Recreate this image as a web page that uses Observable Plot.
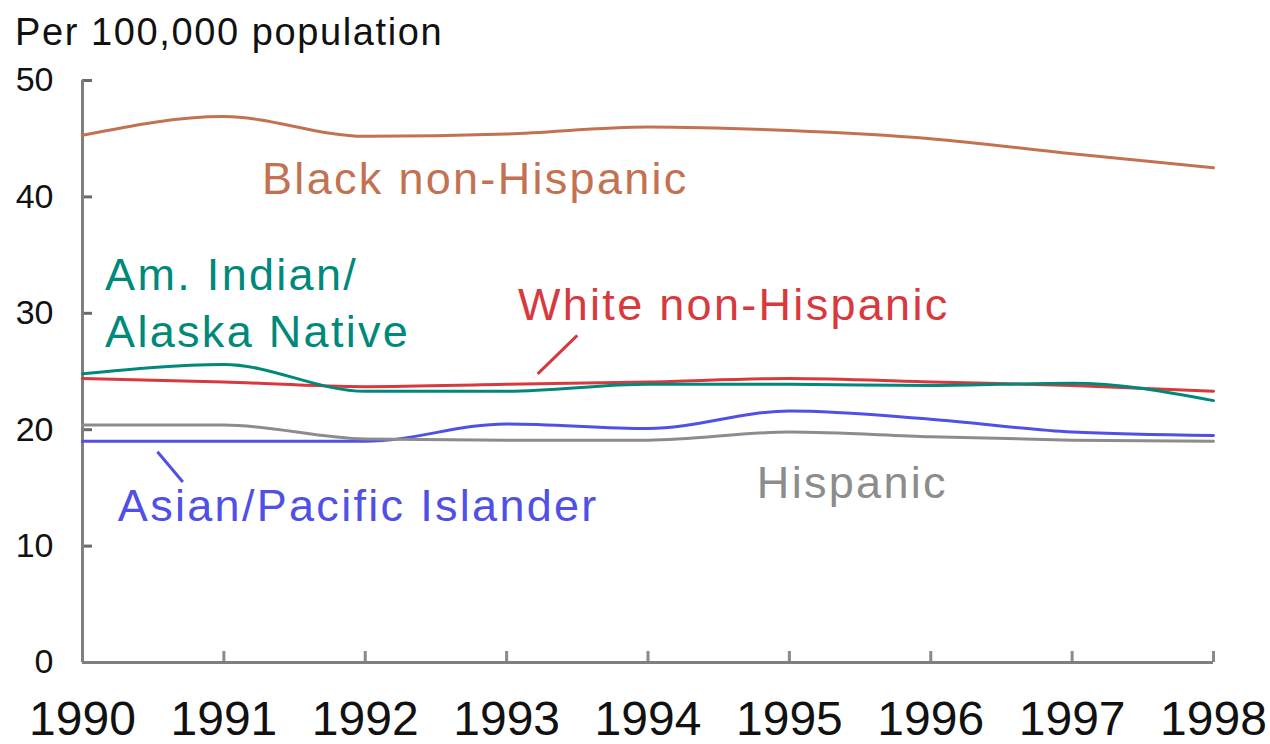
<!DOCTYPE html>
<html>
<head>
<meta charset="utf-8">
<script src="https://cdn.jsdelivr.net/npm/d3@7"></script>
<script src="https://cdn.jsdelivr.net/npm/@observablehq/plot@0.6"></script>
<style>
  html, body { margin: 0; padding: 0; background: #fff; }
  #wrap { position: relative; width: 1270px; height: 744px; overflow: hidden; font-family: "Liberation Sans", Arial, sans-serif; }
  #title { position: absolute; left: 15px; top: 13px; font-size: 38px; letter-spacing: 1.6px; color: #111; line-height: 1; white-space: nowrap; }
  #chart { position: absolute; left: 0; top: 0; }
  #chart svg g[aria-label="text"] text { letter-spacing: 2.3px; }
</style>
</head>
<body>
<div id="wrap">
  <div id="chart"></div>
  <div id="title">Per 100,000 population</div>
</div>
<script>
// ---- data ----
const years = [1990, 1991, 1992, 1993, 1994, 1995, 1996, 1997, 1998];
const blackNonHispanic = [45.3, 46.9, 45.2, 45.4, 46.0, 45.7, 45.0, 43.7, 42.5];
const whiteNonHispanic = [24.4, 24.1, 23.7, 23.9, 24.1, 24.4, 24.1, 23.8, 23.3];
const amIndianAlaska   = [24.8, 25.6, 23.3, 23.3, 23.9, 23.9, 23.8, 24.0, 22.5];
const asianPacific     = [19.0, 19.0, 19.0, 20.5, 20.1, 21.6, 20.9, 19.8, 19.5];
const hispanic         = [20.4, 20.4, 19.2, 19.1, 19.1, 19.8, 19.4, 19.1, 19.0];
const yTicks = [0, 10, 20, 30, 40, 50];

const seriesNames = ["Black non-Hispanic", "White non-Hispanic", "Am. Indian/Alaska Native", "Asian/Pacific Islander", "Hispanic"];
const seriesValues = [blackNonHispanic, whiteNonHispanic, amIndianAlaska, asianPacific, hispanic];
const seriesColors = ["#c27251", "#d8393d", "#00897a", "#5050e6", "#8c8c8c"];

// label anchors (data units)
const labelText  = ["Black non-Hispanic", "White non-Hispanic", "Am. Indian/", "Alaska Native", "Hispanic", "Asian/Pacific Islander"];
const labelX     = [1991.27, 1993.08, 1990.16, 1990.16, 1994.77, 1990.25];
const labelY     = [41.5, 30.7, 33.25, 28.35, 15.4, 13.4];
const labelSeries= [0, 1, 2, 2, 4, 3];

// leader lines (data units)
const leaderSeries = [1, 3];
const leaderX1 = [1993.22, 1990.53];
const leaderY1 = [24.8, 18.1];
const leaderX2 = [1993.50, 1990.71];
const leaderY2 = [28.1, 15.5];

// ---- build tables ----
const rows = [];
seriesNames.forEach((name, i) => years.forEach((yr, j) => rows.push({series: name, year: yr, value: seriesValues[i][j], color: seriesColors[i]})));
const labels = labelText.map((t, i) => ({text: t, x: labelX[i], y: labelY[i], color: seriesColors[labelSeries[i]]}));
const leaders = leaderSeries.map((s, i) => ({x1: leaderX1[i], y1: leaderY1[i], x2: leaderX2[i], y2: leaderY2[i], color: seriesColors[s]}));

const axisGray = "#7f7f7f";

const chart = Plot.plot({
  width: 1270,
  height: 744,
  marginLeft: 82,
  marginRight: 57,
  marginTop: 80,
  marginBottom: 82,
  style: {fontFamily: "'Liberation Sans', Arial, sans-serif", background: "white", color: "#111"},
  x: {domain: [1990, 1998]},
  y: {domain: [0, 50]},
  marks: [
    Plot.axisY(yTicks, {tickSize: 0, tickPadding: 29, fontSize: 34, tickFormat: d => String(d), label: null, fill: "#111"}),
    Plot.axisX(years, {tickSize: 0, tickPadding: 38, fontSize: 48, tickFormat: d => String(d), label: null, fill: "#111"}),
    // inward tick marks
    Plot.ruleY(yTicks, {y: d => d, x1: years[0], x2: years[0], insetRight: -10, stroke: "#6a6a6a", strokeWidth: 3}),
    Plot.ruleX(years, {x: d => d, y1: 0, y2: 0, insetTop: -11, stroke: "#8a8a8a", strokeWidth: 3}),
    Plot.ruleX([years[0]], {y1: 0, y2: 50, stroke: axisGray, strokeWidth: 3}),
    Plot.ruleY([0], {x1: years[0], x2: years[years.length - 1], stroke: axisGray, strokeWidth: 3}),
    Plot.line(rows, {x: "year", y: "value", z: "series", stroke: "color", strokeWidth: 3, curve: "monotone-x"}),
    Plot.link(leaders, {x1: "x1", y1: "y1", x2: "x2", y2: "y2", stroke: "color", strokeWidth: 3}),
    Plot.text(labels, {x: "x", y: "y", text: "text", fill: "color", textAnchor: "start", lineAnchor: "middle", fontSize: 45})
  ]
});
document.getElementById("chart").appendChild(chart);
</script>
</body>
</html>
